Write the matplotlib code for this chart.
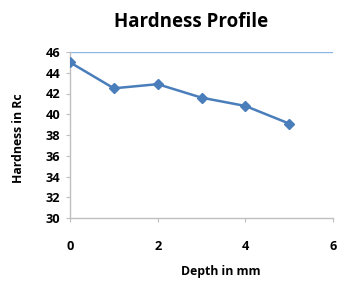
import matplotlib
matplotlib.use("Agg")
import matplotlib.pyplot as plt

depth = [0, 1, 2, 3, 4, 5]
hardness = [45.0, 42.5, 42.9, 41.6, 40.8, 39.1]
x_ticks = [0, 2, 4, 6]
y_ticks = [30, 32, 34, 36, 38, 40, 42, 44, 46]

plt.rcParams['font.family'] = ['Open Sans', 'DejaVu Sans']

fig = plt.figure(figsize=(3.52, 2.89), dpi=100)
ax = fig.add_axes([70/352, 1-218/289, (333-70)/352, (218-52)/289])

ax.plot(depth, hardness, color='#4A7EBB', lw=1.8, marker='D', ms=5,
        markerfacecolor='#4A7EBB', markeredgecolor='#4A7EBB', zorder=3)
ax.axhline(46, color='#8EB4E3', lw=1, zorder=1)

ax.set_xlim(0, 6)
ax.set_ylim(30, 46)
ax.set_xticks(x_ticks)
ax.set_yticks(y_ticks)
for s in ['top', 'right']:
    ax.spines[s].set_visible(False)
for s in ['left', 'bottom']:
    ax.spines[s].set_color('#BFBFBF')
    ax.spines[s].set_linewidth(1)
ax.tick_params(axis='y', direction='out', length=3, color='#BFBFBF', pad=4, labelsize=9.2)
ax.tick_params(axis='x', direction='out', length=3, color='#BFBFBF', pad=13, labelsize=9.2)
for lab in ax.get_xticklabels() + ax.get_yticklabels():
    lab.set_fontweight('bold')

fig.text(191/352, 1-22/289, 'Hardness Profile', ha='center', va='center',
         fontsize=13.5, fontweight='bold')
fig.text(221/352, 1-272/289, 'Depth in mm', ha='center', va='center',
         fontsize=8.8, fontweight='bold')
fig.text(19/352, 1-138/289, 'Hardness in Rc', ha='center', va='center',
         fontsize=8.8, fontweight='bold', rotation=90)

fig.savefig('out.png', dpi=100)
